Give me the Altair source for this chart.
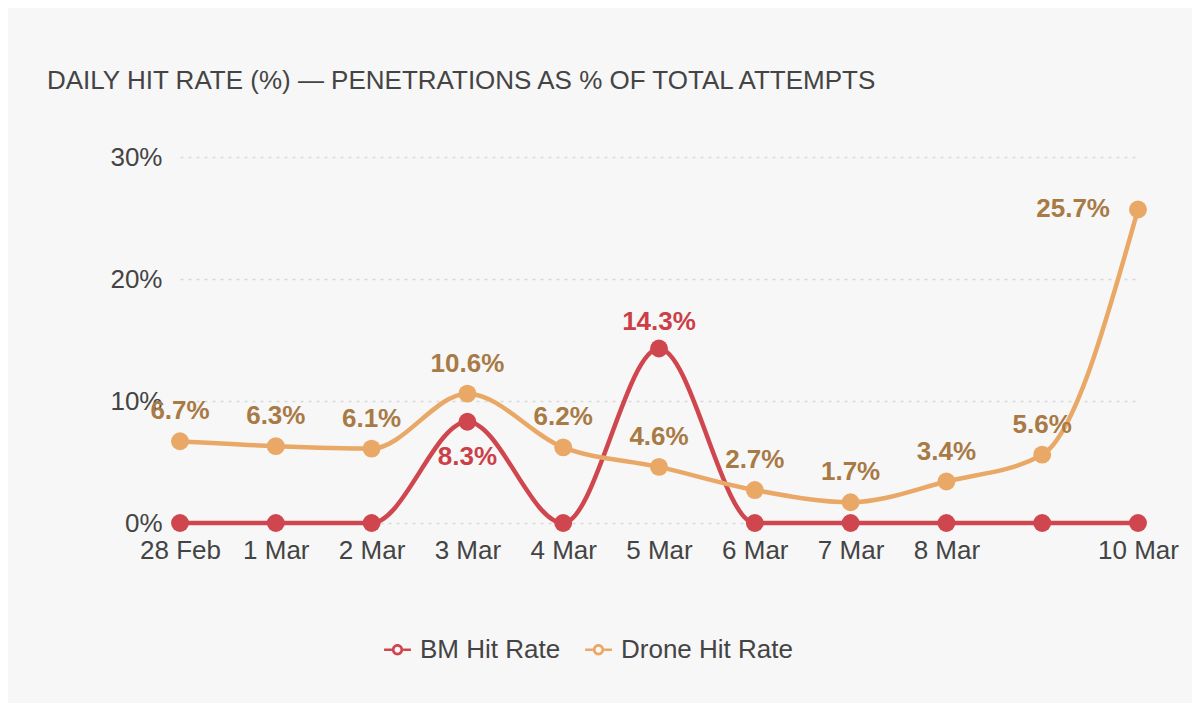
import altair as alt
import pandas as pd

dates = ["28 Feb", "1 Mar", "2 Mar", "3 Mar", "4 Mar", "5 Mar", "6 Mar", "7 Mar", "8 Mar", "9 Mar", "10 Mar"]
bm_rate = [0, 0, 0, 8.3, 0, 14.3, 0, 0, 0, 0, 0]
drone_rate = [6.7, 6.3, 6.1, 10.6, 6.2, 4.6, 2.7, 1.7, 3.4, 5.6, 25.7]
series_names = ["BM Hit Rate", "Drone Hit Rate"]
series_colors = ["#d0464f", "#e9a866"]
y_ticks = [0, 10, 20, 30]

rows = []
for d, b, r in zip(dates, bm_rate, drone_rate):
    rows.append({"date": d, "series": series_names[0], "value": b})
    rows.append({"date": d, "series": series_names[1], "value": r})
df = pd.DataFrame(rows)

FONT = "Liberation Sans"
FS = 26

# legend glyph: short line with an open ring (ring drawn as filled annulus)
RING_SYMBOL = (
    "M-1,-0.1H-0.42V0.1H-1Z"
    "M0.42,-0.1H1V0.1H0.42Z"
    "M0.42,0A0.42,0.42 0 1,1 -0.42,0A0.42,0.42 0 1,1 0.42,0Z"
    "M0.22,0A0.22,0.22 0 1,0 -0.22,0A0.22,0.22 0 1,0 0.22,0Z"
)

x = alt.X(
    "date:N", sort=dates,
    scale=alt.Scale(type="point", padding=0),
    axis=alt.Axis(title=None, labelAngle=0, ticks=False, domain=False, grid=False,
                  labelOverlap=False, labelFontSize=FS, labelColor="#444444",
                  labelFont=FONT, labelPadding=14,
                  labelExpr="datum.value == '9 Mar' ? '' : datum.value"),
)
y = alt.Y(
    "value:Q",
    scale=alt.Scale(domain=[0, 30], nice=False, zero=True),
    axis=alt.Axis(title=None, values=y_ticks, labelExpr="datum.value + '%'",
                  ticks=False, domain=False, grid=True, gridColor="#d9d9d9",
                  gridDash=[3, 5], gridWidth=1.5, labelFontSize=FS,
                  labelColor="#444444", labelFont=FONT, labelPadding=18),
)
color_scale = alt.Scale(domain=series_names, range=series_colors)

base = alt.Chart(df).encode(x=x, y=y)

lines = base.mark_line(interpolate="monotone", strokeWidth=4.5).encode(
    stroke=alt.Stroke(
        "series:N", scale=color_scale,
        legend=alt.Legend(
            title=None, orient="none", direction="horizontal", legendX=204, legendY=479,
            labelFontSize=FS, labelColor="#444444", labelFont=FONT, labelLimit=400,
            symbolType=RING_SYMBOL, symbolSize=720, symbolStrokeWidth=0,
            columnPadding=24, labelOffset=9,
        ),
    )
)
points = base.mark_circle(size=320, opacity=1).encode(
    fill=alt.Fill("series:N", scale=color_scale, legend=None)
)

labels = base.transform_calculate(label="format(datum.value, '.1f') + '%'")
txt_style = dict(fontSize=FS, fontWeight="bold", font=FONT)

drone_txt = labels.transform_filter(
    (alt.datum.series == "Drone Hit Rate") & (alt.datum.date != "10 Mar")
).mark_text(dy=-30, color="#a87a45", **txt_style).encode(text="label:N")
drone_last = labels.transform_filter(
    (alt.datum.series == "Drone Hit Rate") & (alt.datum.date == "10 Mar")
).mark_text(dx=-28, align="right", color="#a87a45", **txt_style).encode(text="label:N")
bm_above = labels.transform_filter(
    (alt.datum.series == "BM Hit Rate") & (alt.datum.value > 0) & (alt.datum.date != "3 Mar")
).mark_text(dy=-27, color="#cc3f49", **txt_style).encode(text="label:N")
bm_below = labels.transform_filter(
    (alt.datum.series == "BM Hit Rate") & (alt.datum.date == "3 Mar")
).mark_text(dy=35, color="#cc3f49", **txt_style).encode(text="label:N")

chart = alt.layer(lines, points, drone_txt, drone_last, bm_above, bm_below).properties(
    width=958, height=366,
    title=alt.TitleParams(
        "DAILY HIT RATE (%) — PENETRATIONS AS % OF TOTAL ATTEMPTS",
        anchor="start", frame="group", dx=-133, offset=50,
        fontSize=FS, fontWeight="normal", color="#444444", font=FONT,
    ),
    autosize=alt.AutoSizeParams(type="none"),
    padding={"left": 172, "top": 149, "right": 54, "bottom": 180},
    background="#f7f7f7",
).configure_view(stroke=None)

chart.save("out.html", embed_options={"renderer": "svg", "actions": False})
